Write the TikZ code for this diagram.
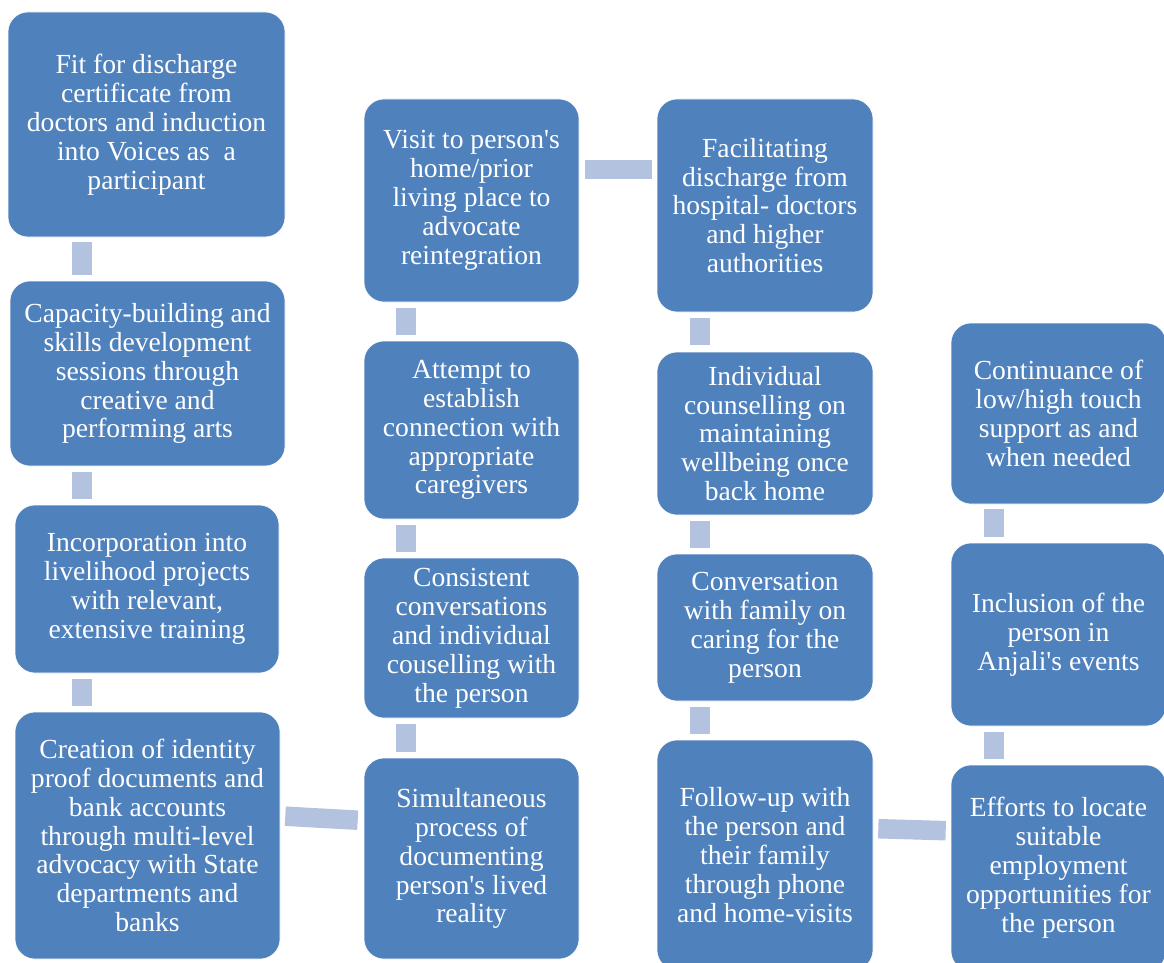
\documentclass[tikz,border=0pt]{standalone}
\usepackage{fontspec}
\setmainfont{Liberation Serif}
\usetikzlibrary{calc}
\definecolor{boxblue}{HTML}{4F81BD}
\definecolor{connblue}{HTML}{B3C2DE}
\newcommand{\apos}{\textquotesingle}
\begin{document}
\begin{tikzpicture}[x=1pt,y=-1pt,
  stepbox/.style={rectangle, rounded corners=20pt, fill=boxblue, draw=white, line width=0.6pt,
    text=white, align=center, inner sep=0pt, font=\fontsize{27.6}{28.9}\selectfont},
  conn/.style={draw=connblue, line width=20pt},
  hconn/.style={draw=connblue, line width=19.5pt}]
\useasboundingbox (0,0) rectangle (1164,963);
\clip (0,0) rectangle (1164,963);

% column 1
\node[stepbox, minimum width=277pt, minimum height=225pt] (A) at (146.5,124.5)
  {Fit for discharge\\certificate from\\doctors and induction\\into Voices as\ \ a\\participant};
\node[stepbox, minimum width=275pt, minimum height=185pt] (B) at (147.5,373.5)
  {Capacity-building and\\skills development\\sessions through\\creative and\\performing arts};
\node[stepbox, minimum width=264pt, minimum height=168pt] (C) at (147,589)
  {Incorporation into\\livelihood projects\\with relevant,\\extensive training};
\node[stepbox, minimum width=265pt, minimum height=247pt] (D) at (147.5,835.5)
  {Creation of identity\\proof documents and\\bank accounts\\through multi-level\\advocacy with State\\departments and\\banks};

% column 2
\node[stepbox, minimum width=215pt, minimum height=203pt] (E) at (471.5,200.5)
  {Visit to person\apos s\\home/prior\\living place to\\advocate\\reintegration};
\node[stepbox, minimum width=215pt, minimum height=178pt] (F) at (471.5,430)
  {Attempt to\\establish\\connection with\\appropriate\\caregivers};
\node[stepbox, minimum width=215pt, minimum height=160pt] (G) at (471.5,638)
  {Consistent\\conversations\\and individual\\couselling with\\the person};
\node[stepbox, minimum width=215pt, minimum height=201pt] (H) at (471.5,858.5)
  {Simultaneous\\process of\\documenting\\person\apos s lived\\reality};

% column 3
\node[stepbox, minimum width=216pt, minimum height=213pt] (I) at (765,205.5)
  {Facilitating\\discharge from\\hospital- doctors\\and higher\\authorities};
\node[stepbox, minimum width=216pt, minimum height=163pt] (J) at (765,433.5)
  {Individual\\counselling on\\maintaining\\wellbeing once\\back home};
\node[stepbox, minimum width=216pt, minimum height=147pt] (K) at (765,627.5)
  {Conversation\\with family on\\caring for the\\person};
\node[stepbox, minimum width=216pt, minimum height=230pt] (L) at (765,855)
  {Follow-up with\\the person and\\their family\\through phone\\and home-visits};

% column 4
\node[stepbox, minimum width=215pt, minimum height=181pt] (M) at (1058.5,413.5)
  {Continuance of\\low/high touch\\support as and\\when needed};
\node[stepbox, minimum width=215pt, minimum height=183pt] (N) at (1058.5,634.5)
  {Inclusion of the\\person in\\Anjali\apos s events};
\node[stepbox, minimum width=215pt, minimum height=206pt] (O) at (1058.5,868)
  {Efforts to locate\\suitable\\employment\\opportunities for\\the person};

% vertical connectors
\draw[conn] ($(A.south west)+(74,5)$) -- ($(B.north west)+(72,-6)$);
\draw[conn] ($(B.south west)+(72,6)$) -- ($(C.north west)+(67,-6)$);
\draw[conn] ($(C.south west)+(67,6)$) -- ($(D.north west)+(67,-6)$);
\draw[conn] ($(E.south west)+(42,6)$) -- ($(F.north west)+(42,-6)$);
\draw[conn] ($(F.south west)+(42,6)$) -- ($(G.north west)+(42,-6)$);
\draw[conn] ($(G.south west)+(42,6)$) -- ($(H.north west)+(42,-6)$);
\draw[conn] ($(I.south west)+(43,6)$) -- ($(J.north west)+(43,-7)$);
\draw[conn] ($(J.south west)+(43,6)$) -- ($(K.north west)+(43,-6)$);
\draw[conn] ($(K.south west)+(43,6)$) -- ($(L.north west)+(43,-6)$);
\draw[conn] ($(M.south west)+(43,5)$) -- ($(N.north west)+(43,-6)$);
\draw[conn] ($(N.south west)+(43,6)$) -- ($(O.north west)+(43,-6)$);

% horizontal connectors
\draw[hconn] ($(D.north east)+(5,104.5)$) -- ($(H.north west)+(-6,62.5)$);
\draw[hconn] ($(E.north east)+(6,71)$) -- ($(I.north west)+(-5,71)$);
\draw[hconn] ($(L.north east)+(5,89)$) -- ($(O.north west)+(-5,66)$);
\end{tikzpicture}
\end{document}
